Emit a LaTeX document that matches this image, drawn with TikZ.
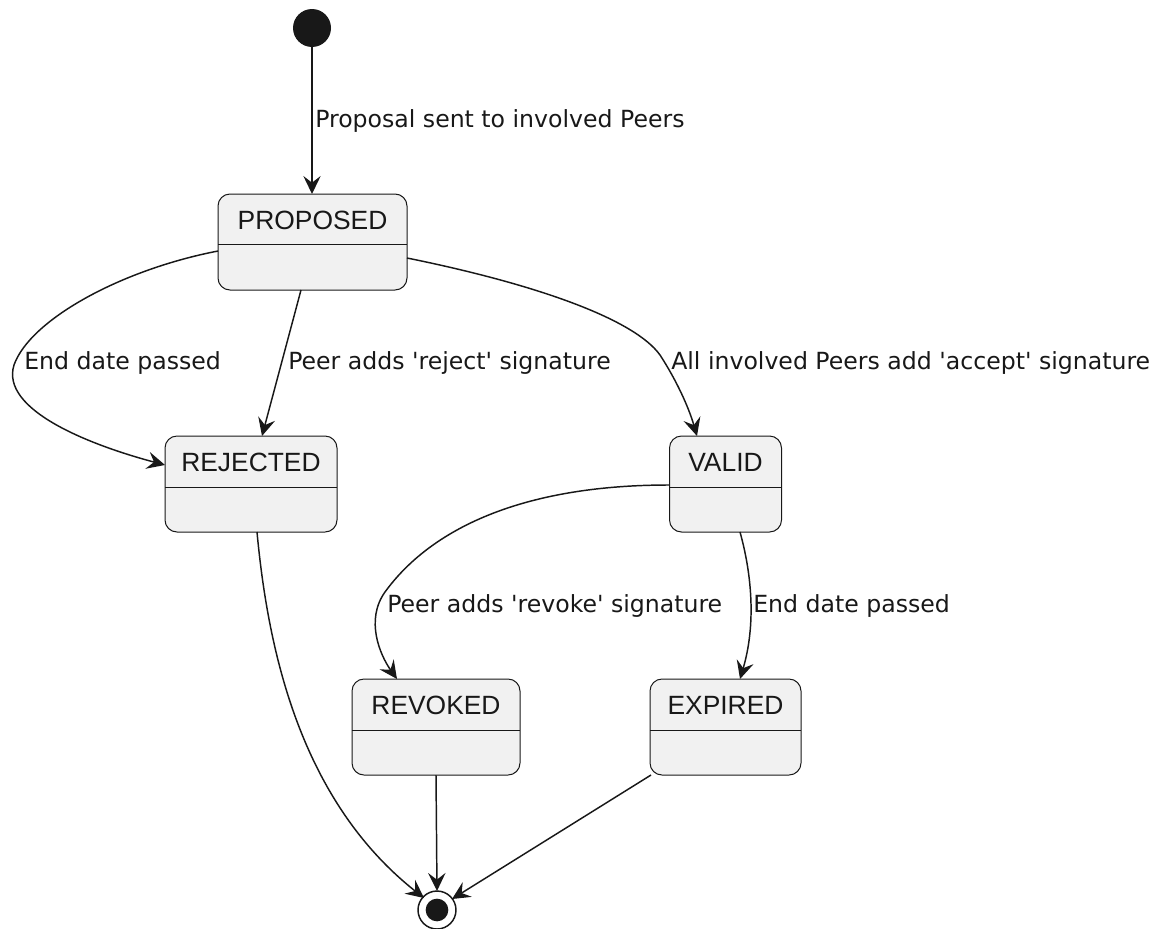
\documentclass[tikz,border=0pt]{standalone}
\usepackage{fontspec}
\setmainfont{DejaVu Sans}
\newfontfamily\nodefont{Liberation Sans}
\usetikzlibrary{arrows.meta}
\definecolor{ink}{HTML}{181818}
\definecolor{statefill}{HTML}{F1F1F1}
\newcommand{\sq}{\textquotesingle}
\begin{document}
\begin{tikzpicture}[x=0.75pt,y=-0.75pt,
  statebox/.style={draw=ink,line width=0.75pt,fill=statefill,rounded corners=9pt,inner sep=0pt,minimum height=72pt},
  statetitle/.style={inner sep=0pt,font=\nodefont\fontsize{19.8pt}{22pt}\selectfont,text=ink},
  divider/.style={draw=ink,line width=0.75pt},
  edgelabel/.style={inner sep=0pt,anchor=west,font=\fontsize{17.7pt}{21pt}\selectfont,text=ink},
  trans/.style={draw=ink,line width=1.1pt,-{Stealth[length=13.5pt,width=13pt,inset=5pt]}},
  plain/.style={draw=ink,line width=1.1pt}
]
\useasboundingbox (0,0) rectangle (1169,928);

% initial and final
\node[circle,fill=ink,inner sep=0pt,minimum size=28.5pt] (init) at (312,28) {};
\node[circle,draw=ink,line width=1.1pt,fill=white,inner sep=0pt,minimum size=28.5pt] (final) at (437,910) {};
\node[circle,fill=ink,inner sep=0pt,minimum size=17pt] (finaldot) at (437,910) {};

% states
\node[statebox,minimum width=141.75pt] (P) at (312.5,242) {};
\node[statetitle] (Pt) at (312.5,220) {PROPOSED};
\draw[divider] (218,244) -- (407,244);

\node[statebox,minimum width=129pt] (R) at (251,484) {};
\node[statetitle] (Rt) at (251,462) {REJECTED};
\draw[divider] (165,487) -- (337,487);

\node[statebox,minimum width=84pt] (V) at (725.5,484) {};
\node[statetitle] (Vt) at (725.5,462) {VALID};
\draw[divider] (669.5,487) -- (781.5,487);

\node[statebox,minimum width=126pt] (K) at (436,727) {};
\node[statetitle] (Kt) at (436,705) {REVOKED};
\draw[divider] (352,730) -- (520,730);

\node[statebox,minimum width=113.25pt] (E) at (725.5,727) {};
\node[statetitle] (Et) at (725.5,705) {EXPIRED};
\draw[divider] (650,730) -- (801,730);

% coordinates for connector ends
\coordinate (Pw) at (218,251);
\coordinate (Pb) at (301,290);
\coordinate (Pe) at (407,258);
\coordinate (Rw) at (165,465);
\coordinate (Rtop) at (262,436);
\coordinate (Rb) at (257,532);
\coordinate (Vtop) at (697,436);
\coordinate (Vw) at (669,485);
\coordinate (Vb) at (740,532);
\coordinate (Ktop) at (397,679);
\coordinate (Kb) at (436,775);
\coordinate (Etop) at (740,679);
\coordinate (Eb) at (651,775);
\coordinate (f1) at (424,898);
\coordinate (f2) at (437,891);
\coordinate (f3) at (452,899);

% transitions
\draw[trans] (init) -- (312,194);
\node[edgelabel] (l1) at (315,121) {Proposal sent to involved Peers};

\draw[trans] (Pw) .. controls (120,270) and (30,320) .. (14,365) .. controls (0,410) and (90,445) .. (Rw);
\node[edgelabel] (l2) at (24,363) {End date passed};

\draw[trans] (Pb) -- (Rtop);
\node[edgelabel] (l3) at (288,363) {Peer adds \sq reject\sq{} signature};

\draw[trans] (Pe) .. controls (540,285) and (635,320) .. (660,355) .. controls (675,378) and (688,405) .. (Vtop);
\node[edgelabel] (l4) at (671,363) {All involved Peers add \sq accept\sq{} signature};

\draw[trans] (Vw) .. controls (520,485) and (430,530) .. (385,592) .. controls (365,620) and (380,655) .. (Ktop);
\node[edgelabel] (l5) at (387,606) {Peer adds \sq revoke\sq{} signature};

\draw[trans] (Vb) .. controls (752,575) and (756,625) .. (Etop);
\node[edgelabel] (l6) at (753,606) {End date passed};

\draw[trans] (Rb) .. controls (268,650) and (300,800) .. (f1);
\draw[trans] (Kb) -- (f2);
\draw[trans] (Eb) -- (f3);
\end{tikzpicture}
\end{document}
